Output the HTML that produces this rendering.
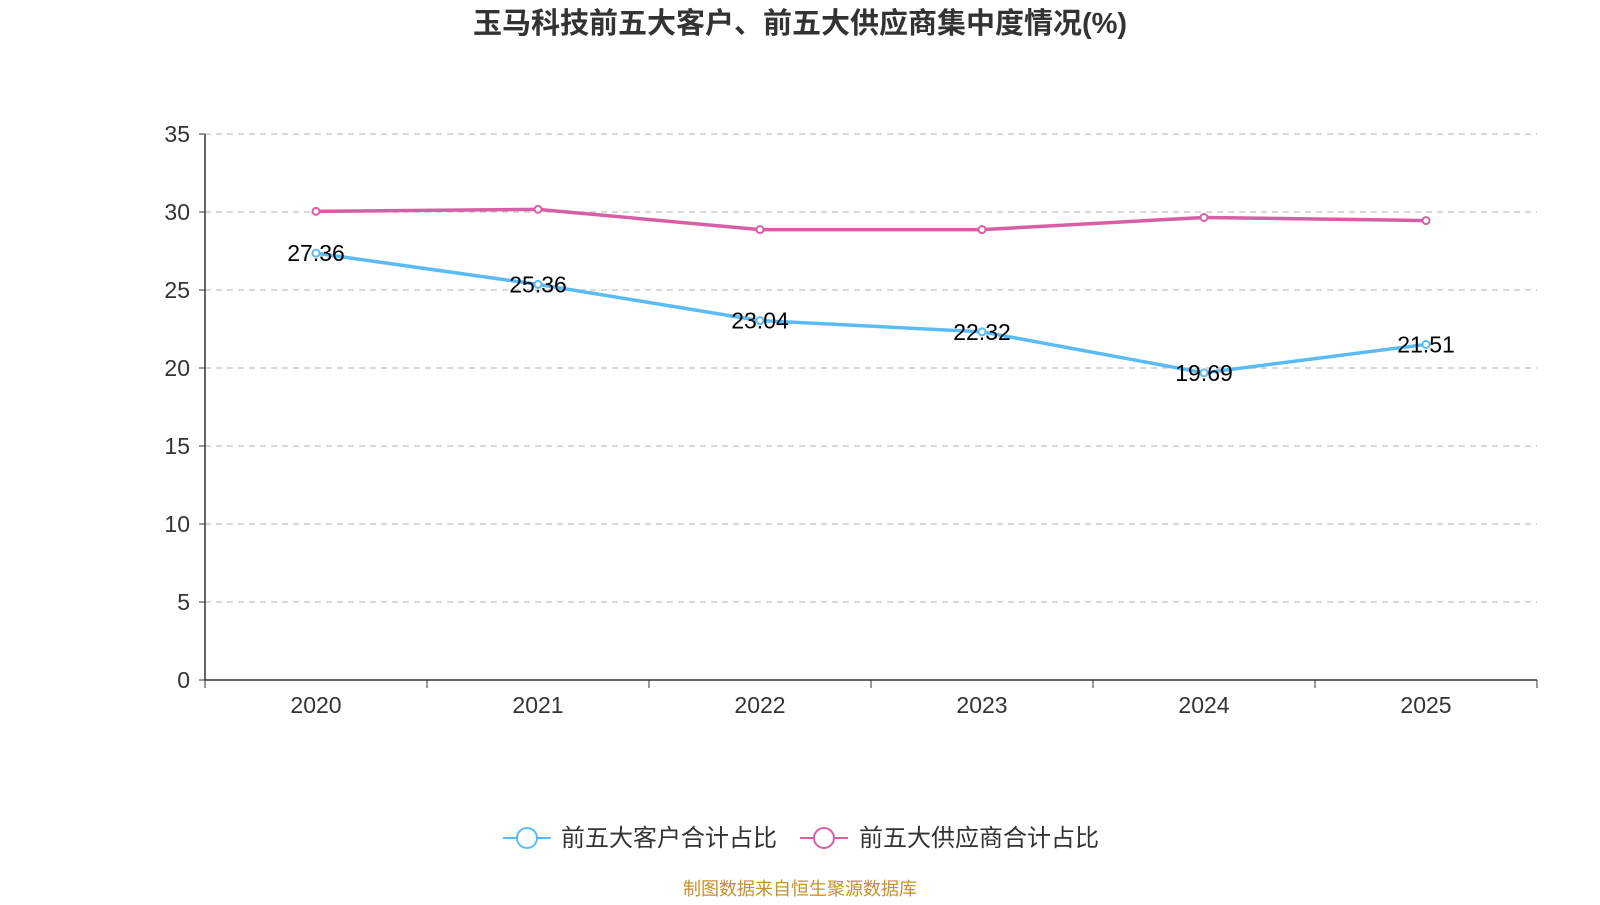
<!DOCTYPE html>
<html><head><meta charset="utf-8"><style>
body{margin:0;background:#fff;font-family:"Liberation Sans","Noto Sans CJK SC",sans-serif;}
</style></head><body>
<svg id="chart" width="1600" height="900" xmlns="http://www.w3.org/2000/svg" font-family="Liberation Sans, Noto Sans CJK SC, sans-serif">
<text x="800" y="33" text-anchor="middle" font-size="29" font-weight="bold" fill="#333">玉马科技前五大客户、前五大供应商集中度情况(%)</text>
<g id="grid"></g><g id="axes"></g><g id="series"></g>
<g>
<g>
<line x1="503" y1="838" x2="551" y2="838" stroke="#5bbcf5" stroke-width="2"/><circle cx="527" cy="838" r="10" fill="#fff" stroke="#5bbcf5" stroke-width="2"/>
<text x="561" y="846" font-size="24" fill="#333">前五大客户合计占比</text></g>
<g>
<line x1="800" y1="838" x2="848" y2="838" stroke="#d85fa6" stroke-width="2"/><circle cx="824" cy="838" r="10" fill="#fff" stroke="#d85fa6" stroke-width="2"/>
<text x="859" y="846" font-size="24" fill="#333">前五大供应商合计占比</text></g>
</g>
<text x="800" y="895" text-anchor="middle" font-size="18" fill="#c8902a">制图数据来自恒生聚源数据库</text>
</svg>
<script>
const categories=["2020","2021","2022","2023","2024","2025"];
const customerValues=[27.36,25.36,23.04,22.32,19.69,21.51];
const supplierValues=[30.04,30.17,28.87,28.87,29.65,29.45];
const yTicks=[0,5,10,15,20,25,30,35];
const NS="http://www.w3.org/2000/svg";
const x0=205,x1=1537,y0=680,y1=134,yMax=35;
const bw=(x1-x0)/categories.length;
const xS=i=>x0+bw*(i+0.5);
const yS=v=>y0-(v/yMax)*(y0-y1);
function mk(tag,attrs,parent,txt){const e=document.createElementNS(NS,tag);for(const k in attrs)e.setAttribute(k,attrs[k]);if(txt!=null)e.textContent=txt;parent.appendChild(e);return e;}
const grid=document.getElementById('grid'),axes=document.getElementById('axes'),ser=document.getElementById('series');
yTicks.forEach(t=>{const y=yS(t);
 if(t>0){const g=mk('line',{x1:x0,x2:x1,y1:y,y2:y,stroke:'#ccc','stroke-dasharray':'6,5','stroke-width':1.5},grid);
 
 }
 mk('line',{x1:x0-6,x2:x0,y1:y,y2:y,stroke:'#333'},axes);
 const l=mk('text',{x:x0-15,y:y+8,'text-anchor':'end','font-size':23,fill:'#333'},axes,String(t));
 
 
});
mk('line',{x1:x0,x2:x0,y1:y1,y2:y0,stroke:'#333','stroke-width':1.5},axes);
mk('line',{x1:x0,x2:x1,y1:y0,y2:y0,stroke:'#333','stroke-width':1.5},axes);
for(let i=0;i<=categories.length;i++){const x=x0+bw*i;mk('line',{x1:x,x2:x,y1:y0,y2:y0+8,stroke:'#333'},axes);}
categories.forEach((c,i)=>{const l=mk('text',{x:xS(i),y:y0+33,'text-anchor':'middle','font-size':23,fill:'#333'},axes,c);
 
 });
function drawSeries(vals,color,name,labels){
 const p=mk('polyline',{points:vals.map((v,i)=>xS(i)+','+yS(v)).join(' '),fill:'none',stroke:color,'stroke-width':3.5},ser);
 
 
 vals.forEach((v,i)=>{const c=mk('circle',{cx:xS(i),cy:yS(v),r:3.5,fill:'#fff',stroke:color,'stroke-width':2},ser);
  
  
  if(labels){const t=mk('text',{x:xS(i),y:yS(v)+8,'text-anchor':'middle','font-size':23,fill:'#000'},ser,v.toFixed(2));
   
   }
 });
}
drawSeries(supplierValues,'#d85fa6','supplier',false);
drawSeries(customerValues,'#5bbcf5','customer',true);
</script>
</body></html>
